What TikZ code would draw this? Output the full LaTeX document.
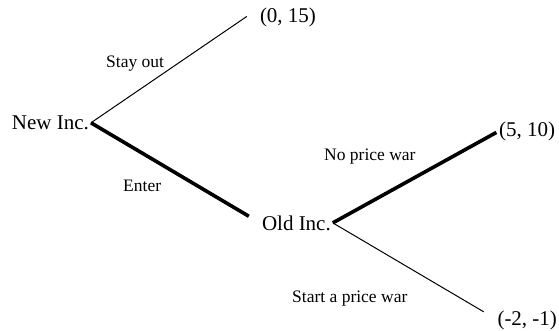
\documentclass[tikz,border=0pt]{standalone}
\usepackage{fontspec}
\setmainfont{Liberation Serif}
\usepackage{tikz}
\usetikzlibrary{positioning}

\begin{document}
\begin{tikzpicture}[x=1pt,y=-1pt,
    player/.style={anchor=base west,inner sep=0pt,outer sep=2pt,font=\fontsize{21}{25}\selectfont},
    payoff/.style={anchor=base west,inner sep=0pt,outer sep=0pt,font=\fontsize{21}{25}\selectfont},
    move/.style={anchor=base west,inner sep=0pt,font=\fontsize{17.5}{21}\selectfont},
    thinbranch/.style={line width=1pt},
    thickbranch/.style={line width=3.6pt}]
    \useasboundingbox (0,0) rectangle (559,330);
    \node[player] (newinc) at (10,129.5) {New Inc.};
    \node[player] (oldinc) at (260,230) {Old Inc.};
    \node[payoff] (stayoutpay) at (260,22) {(0, 15)};
    \node[payoff] (peacepay) at (499,136) {(5, 10)};
    \node[payoff] (warpay) at (497.5,325) {(-2, -1)};
    \node[move] (stayout) at (106,67) {Stay out};
    \node[move] (enter) at (123,191) {Enter};
    \node[move] (noprice) at (324,160) {No price war};
    \node[move] (startwar) at (292,302) {Start a price war};
    \draw[thinbranch,shorten >=16pt] (newinc.east) -- (stayoutpay.north west);
    \draw[thickbranch,shorten >=13pt] (newinc.east) -- (oldinc.west);
    \draw[thickbranch,shorten >=3pt] (oldinc.east) -- (peacepay.west);
    \draw[thinbranch,shorten >=16pt] (oldinc.east) -- (warpay.west);
  \end{tikzpicture}
\end{document}
